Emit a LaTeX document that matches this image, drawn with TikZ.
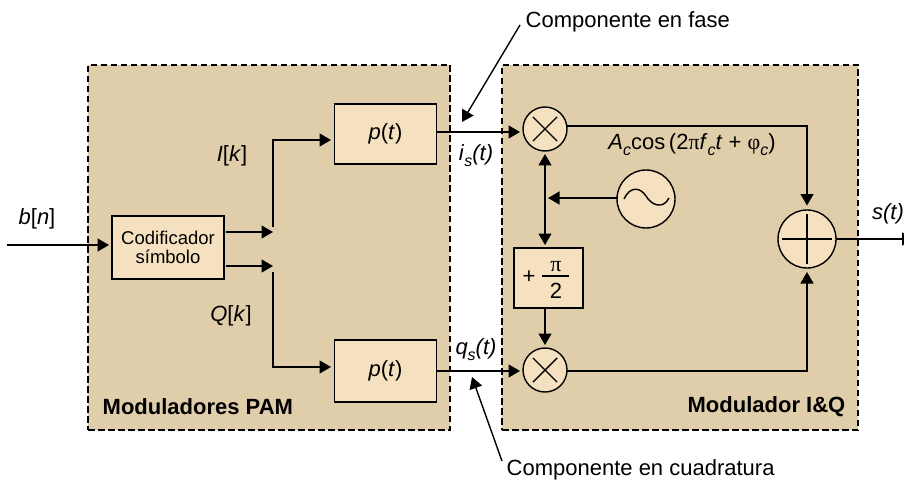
\documentclass[tikz,border=0pt]{standalone}
\usepackage{fontspec}
\setmainfont{Liberation Sans}
\newfontfamily\greekfont{Liberation Serif}
\usetikzlibrary{arrows.meta,calc}
\definecolor{cpanel}{RGB}{224,205,170}
\definecolor{cblock}{RGB}{245,225,192}
\newcommand{\subidx}[1]{\raisebox{-0.28em}{\fontsize{16}{16}\selectfont\textit{#1}}}
\tikzset{every path/.style={>={Triangle[length=11.5pt,width=13pt]},line width=1.4pt,color=black}}
\tikzset{panel/.style={draw,fill=cpanel,line width=1.2pt,dash pattern=on 6.5pt off 3.5pt,inner sep=0pt,outer sep=0pt},
block/.style={draw,fill=cblock,line width=1.4pt,inner sep=0pt,outer sep=0pt,align=center},
mixer/.style={draw,circle,fill=cblock,line width=1.4pt,minimum size=44pt,inner sep=0pt,outer sep=0pt},
bigmixer/.style={mixer,minimum size=58pt},
label/.style={inner sep=0pt,font=\fontsize{22}{22}\selectfont},
title/.style={inner sep=0pt,font=\fontsize{22}{22}\selectfont\bfseries}}

\begin{document}
\begin{tikzpicture}[x=1pt,y=-1pt]
\useasboundingbox (0,0) rectangle (904,481);
\fill[white] (0,0) rectangle (904,481);

\node[panel,minimum width=362pt,minimum height=365pt] (pam) at (269,247.5) {};
\node[panel,minimum width=356pt,minimum height=365pt] (iq) at (680,247.5) {};

\node[block,minimum width=112pt,minimum height=63pt,font=\fontsize{18.5}{18.5}\selectfont] (cod) at (168,247.5) {Codificador\\símbolo};
\node[block,minimum width=102pt,minimum height=60pt,label] (p1) at (385.5,134) {\textit{p}(\textit{t})};
\node[block,minimum width=102pt,minimum height=62pt,label] (p2) at (385.5,371) {\textit{p}(\textit{t})};
\node[block,minimum width=69pt,minimum height=60pt] (shift) at (548.5,278) {};
\node[mixer] (m1) at (545,129) {};
\node[mixer] (m2) at (545,370) {};
\node[bigmixer] (osc) at (646,199) {};
\node[bigmixer] (sum) at (807,239) {};

% symbols inside the circles
\draw[shorten >=5pt,shorten <=5pt] (m1.45) -- (m1.225);
\draw[shorten >=5pt,shorten <=5pt] (m1.135) -- (m1.315);
\draw[shorten >=5pt,shorten <=5pt] (m2.45) -- (m2.225);
\draw[shorten >=5pt,shorten <=5pt] (m2.135) -- (m2.315);
\draw[shorten >=4pt,shorten <=4pt] (sum.north) -- (sum.south);
\draw[shorten >=4pt,shorten <=4pt] (sum.west) -- (sum.east);
\draw ($(osc.center)+(-22,0)$) .. controls ($(osc.center)+(-16,-13)$) and ($(osc.center)+(-6,-12)$) .. ($(osc.center)+(0,-3)$)
 .. controls ($(osc.center)+(5,6)$) and ($(osc.center)+(17,11)$) .. ($(osc.center)+(23,-1)$);

\coordinate (in) at (7,245);
\coordinate (codin) at (109,245);
\coordinate (iout) at (226,232);
\coordinate (itip) at (273,232);
\coordinate (qout) at (226,266);
\coordinate (qtip) at (273,266);
\coordinate (ibend) at (273,227);
\coordinate (qbend) at (273,272);
\coordinate (p1in) at (331,140);
\coordinate (p2in) at (331,367);
\coordinate (isout) at (437,132);
\coordinate (isin) at (520,132);
\coordinate (qsout) at (437,371);
\coordinate (qsin) at (520,371);
\coordinate (m1out) at (567,126);
\coordinate (sumin) at (807,205.5);
\coordinate (sumlow) at (807,272);
\coordinate (m1up) at (545,154);
\coordinate (shiftup) at (545,245);
\coordinate (osctip) at (548,198);
\coordinate (oscout) at (617.5,198);
\coordinate (shiftdn) at (545,308);
\coordinate (m2up) at (545,345);
\coordinate (m2out) at (567,371);
\coordinate (out) at (913.5,239);
\coordinate (fasestart) at (520,25);
\coordinate (fasetip) at (462,122);
\coordinate (cuadstart) at (502,461);
\coordinate (cuadtip) at (472,377);
\coordinate (barleft) at (542,276);
\coordinate (barright) at (569,276);

\draw[->] (in) -- (codin);
\draw[->] (iout) -- (itip);
\draw[->] (qout) -- (qtip);
\draw[->] (ibend) |- (p1in);
\draw[->] (qbend) |- (p2in);
\draw[->] (isout) -- (isin);
\draw[->] (qsout) -- (qsin);
\draw[->] (m1out) -| (sumin);
\draw[->] (m2out) -| (sumlow);
\draw[<->] (m1up) -- (shiftup);
\draw[->] (oscout) -- (osctip);
\draw[->] (shiftdn) -- (m2up);
\draw[->] (sum.east) -- (out);
\draw[->] (fasestart) -- (fasetip);
\draw[->] (cuadstart) -- (cuadtip);
\draw (barleft) -- (barright);

\node[label] (bn) at (37,219) {\textit{b}[\textit{n}]};
\node[label] (ik) at (232,156) {\textit{I}[\textit{k}]};
\node[label] (qk) at (231,316) {\textit{Q}[\textit{k}]};
\node[label] (is) at (476,156) {\textit{i}\subidx{s}\textit{(t)}};
\node[label] (qs) at (476,350) {\textit{q}\subidx{s}\textit{(t)}};
\node[label] (st) at (888,214) {\textit{s}\textit{(t)}};
\node[label] (carrier) at (692,145) {\textit{A}\subidx{c}cos\,(2{\greekfont π}\textit{f}\subidx{c}\textit{t} + {\greekfont φ}\subidx{c})};
\node[label] (plus) at (529,277) {+};
\node[label] (fracpi) at (556,267) {{\greekfont π}};
\node[label] (fractwo) at (556,291) {2};
\node[label,anchor=west] (fase) at (525,22) {Componente en fase};
\node[label,anchor=west] (cuad) at (506,470) {Componente en cuadratura};
\node[title,anchor=west] (pamname) at (102,407) {Moduladores PAM};
\node[title,anchor=east] (iqname) at (846,407) {Modulador I\&Q};
\end{tikzpicture}
\end{document}
